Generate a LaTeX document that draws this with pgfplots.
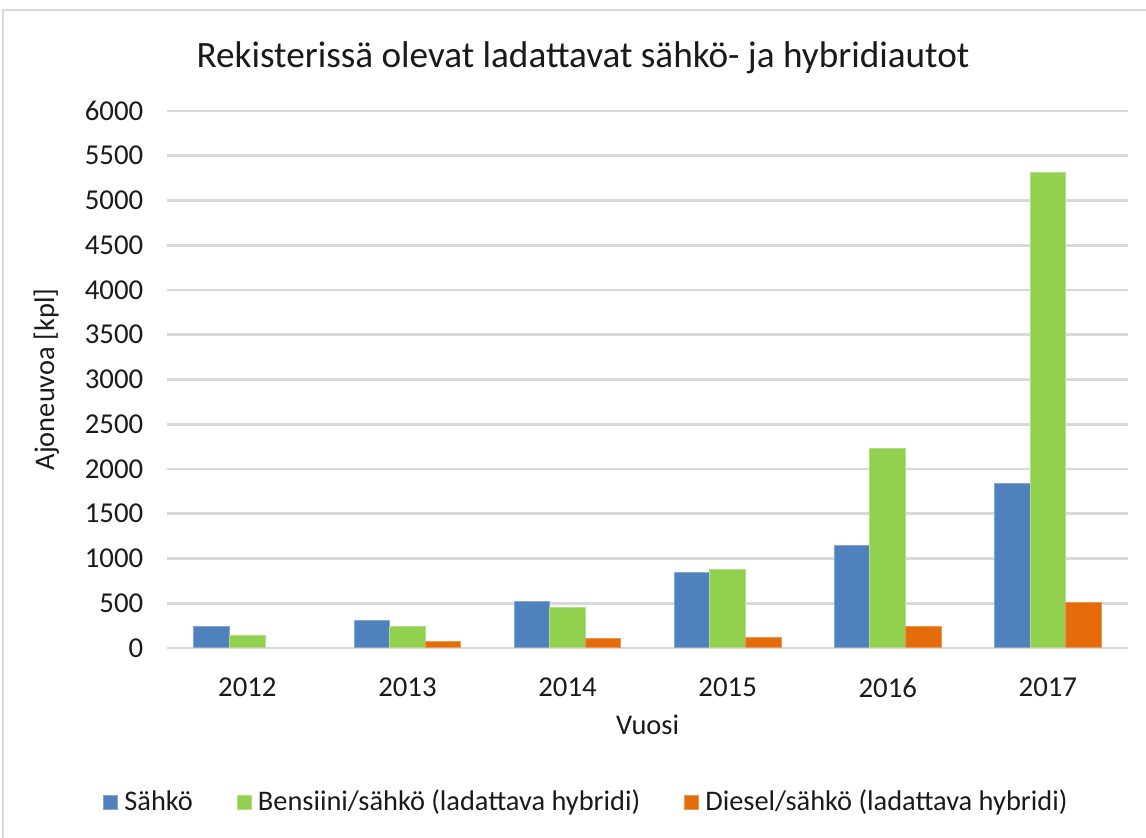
\documentclass[border=0pt]{standalone}
\usepackage{fontspec}
\setmainfont{Carlito}
\usepackage{pgfplots}
\pgfplotsset{compat=1.18}
\definecolor{cblue}{HTML}{4F81BD}
\definecolor{cgreen}{HTML}{92D050}
\definecolor{corange}{HTML}{E46C0A}
\definecolor{cgrid}{HTML}{D9D9D9}
\definecolor{ctext}{HTML}{1A1A1A}
\begin{document}
\begin{tikzpicture}
\useasboundingbox (0,0) rectangle (573pt,419pt);
\fill[white] (0,0) rectangle (573pt,419pt);
\draw[cgrid, line width=1pt] (1.5pt,0) -- (1.5pt,414pt) -- (573pt,414pt);
\node[font=\fontsize{18.6}{20}\selectfont, text=ctext] at (291.5pt,390pt) {Rekisterissä olevat ladattavat sähkö- ja hybridiautot};
\begin{axis}[
  at={(83.65pt,95pt)}, anchor=south west,
  scale only axis, width=480.3pt, height=268.5pt,
  ybar=0pt, bar width=17.8pt,
  xmin=-0.5, xmax=5.5, ymin=0, ymax=6000,
  xtick={0,1,2,3,4,5},
  xticklabels={2012,2013,2014,2015,2016,2017},
  ytick={0,500,...,6000},
  axis line style={draw=none},
  major tick length=0pt,
  ymajorgrids, grid style={cgrid, line width=1.3pt},
  tick label style={font=\fontsize{14.4}{16}\selectfont, text=ctext},
  /pgf/number format/assume math mode=true,
  /pgf/number format/1000 sep={},
  yticklabel style={xshift=-8.5pt},
  xticklabel style={yshift=-11.5pt},
  xlabel={Vuosi}, ylabel={Ajoneuvoa [kpl]},
  label style={font=\fontsize{14.2}{16}\selectfont, text=ctext},
  xlabel style={yshift=-2pt},
  ylabel style={yshift=6pt},
  legend style={at={(0.4374,-0.287)}, anchor=center, draw=none, fill=none,
    font=\fontsize{14.2}{16}\selectfont, text=ctext,
    /tikz/every odd column/.append style={column sep=1pt},
    /tikz/every even column/.append style={column sep=20pt}},
  legend columns=3,
  legend image code/.code={\fill[#1] (0pt,-3.5pt) rectangle (7pt,3.5pt);},
]
\addplot[fill=cblue, draw=cblue!70!white, line width=0.5pt] coordinates {(0,238) (1,310) (2,519) (3,839) (4,1146) (5,1843)};
\addplot[fill=cgreen, draw=cgreen!70!white, line width=0.5pt] coordinates {(0,142) (1,243) (2,452) (3,877) (4,2229) (5,5312)};
\addplot[fill=corange, draw=corange!70!white, line width=0.5pt] coordinates {(1,67) (2,105) (3,120) (4,238) (5,509)};
\legend{Sähkö, Bensiini/sähkö (ladattava hybridi), Diesel/sähkö (ladattava hybridi)}
\end{axis}
\end{tikzpicture}
\end{document}
